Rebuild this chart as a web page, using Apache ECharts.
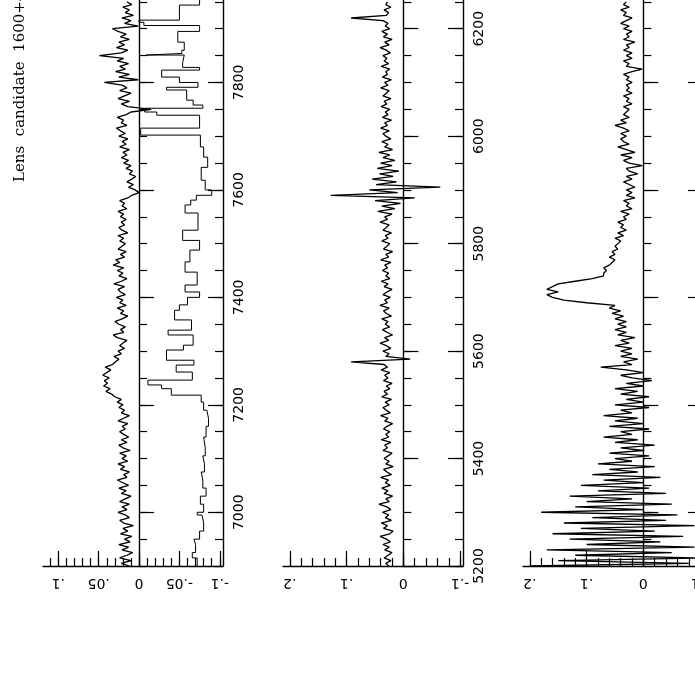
<!DOCTYPE html>
<html><head><meta charset="utf-8">
<script src="https://cdn.jsdelivr.net/npm/echarts@6/dist/echarts.min.js"></script>
<style>html,body{margin:0;padding:0;background:#fff}#c{width:695px;height:695px}</style>
</head><body><div id="c"></div>
<script>
const titleText = 'Lens  candidate  1600+434';

// ---- Panel 1 : 6900-8000 A (spectrum sampled every 5 A) ----
const p1Start = 6900, p1Step = 5;
const p1Flux = [
0.012,0.022,0.010,0.024,0.015,0.008,0.021,0.013,0.025,0.011,
0.018,0.009,0.023,0.014,0.020,0.007,0.019,0.024,0.012,0.017,
0.026,0.015,0.021,0.012,0.024,0.017,0.010,0.022,0.016,0.025,
0.013,0.020,0.027,0.015,0.019,0.012,0.023,0.018,0.026,0.014,
0.021,0.016,0.024,0.011,0.020,0.025,0.015,0.022,0.013,0.019,
0.024,0.017,0.021,0.014,0.026,0.019,0.012,0.022,0.018,0.025,
0.020,0.027,0.022,0.030,0.034,0.041,0.036,0.044,0.039,0.043,
0.037,0.045,0.040,0.035,0.042,0.033,0.029,0.025,0.031,0.022,
0.026,0.018,0.024,0.020,0.015,0.027,0.032,0.019,0.023,0.017,
0.025,0.030,0.021,0.014,0.023,0.019,0.027,0.016,0.024,0.020,
0.028,0.017,0.023,0.026,0.018,0.031,0.022,0.015,0.025,0.020,
0.027,0.019,0.032,0.024,0.029,0.018,0.023,0.016,0.026,0.021,
0.017,0.024,0.019,0.026,0.014,0.021,0.025,0.018,0.022,0.016,
0.023,0.019,0.026,0.015,0.021,0.018,0.024,0.014,0.009,0.000,
0.005,0.013,0.007,0.015,0.009,0.004,0.012,0.008,0.016,0.010,
0.019,0.013,0.022,0.015,0.020,0.012,0.024,0.016,0.021,0.014,
0.025,0.017,0.023,0.028,0.015,0.022,0.019,0.027,0.016,0.010,
-0.015,0.014,0.022,0.012,0.026,0.018,0.010,0.024,0.015,0.021,
0.043,0.001,0.025,0.012,0.029,0.017,0.024,0.013,0.027,0.019,
0.049,0.022,0.014,0.028,0.018,0.025,0.012,0.023,0.016,0.026,
0.033,0.001,0.018,0.010,0.021,0.007,0.017,0.012,0.020,0.009,
0.015];
// binned comparison curve (bin start wavelength, value)
const p1BinWl = [6900,6915,6925,6940,6950,6965,6980,6995,7000,7015,7030,7045,7060,7075,7090,7105,7120,7140,7160,7175,7190,7205,7218,7230,7237,7246,7261,7274,7283,7302,7311,7330,7339,7358,7376,7386,7400,7410,7423,7447,7466,7488,7506,7525,7557,7572,7581,7590,7600,7618,7642,7661,7680,7702,7715,7739,7745,7752,7758,7767,7786,7791,7800,7810,7823,7828,7837,7851,7854,7860,7875,7895,7906,7912,7916,7944];
const p1BinVal = [-0.072,-0.066,-0.070,-0.068,-0.075,-0.080,-0.078,-0.072,-0.080,-0.076,-0.083,-0.079,-0.077,-0.081,-0.079,-0.082,-0.080,-0.083,-0.086,-0.084,-0.080,-0.077,-0.040,-0.028,-0.011,-0.066,-0.046,-0.068,-0.034,-0.055,-0.067,-0.036,-0.065,-0.044,-0.050,-0.060,-0.075,-0.057,-0.072,-0.057,-0.063,-0.075,-0.054,-0.073,-0.057,-0.064,-0.071,-0.090,-0.082,-0.077,-0.085,-0.080,-0.076,-0.002,-0.075,-0.022,-0.007,-0.079,-0.067,-0.059,-0.034,-0.073,-0.050,-0.028,-0.075,-0.054,-0.056,-0.009,-0.053,-0.056,-0.048,-0.075,-0.006,0.000,-0.050,-0.075];
const p1BinEnd = 7960;

// ---- Panel 2 : 5200-6300 A ----
const p2Start = 5200, p2Step = 5;
const p2Flux = [
0.026,0.031,0.022,0.034,0.027,0.020,0.033,0.025,0.036,0.023,
0.030,0.041,0.024,0.018,0.035,0.028,0.039,0.021,0.032,0.026,
0.037,0.022,0.029,0.043,0.025,0.031,0.019,0.034,0.027,0.038,
0.023,0.032,0.026,0.040,0.021,0.029,0.035,0.018,0.031,0.025,
0.034,0.027,0.020,0.036,0.028,0.033,0.022,0.039,0.026,0.031,
0.024,0.035,0.029,0.019,0.033,0.027,0.040,0.023,0.030,0.036,
0.025,0.032,0.021,0.038,0.028,0.034,0.024,0.030,0.020,0.035,
0.027,0.033,0.024,0.039,0.028,0.034,0.092,-0.012,0.031,0.025,
0.036,0.022,0.030,0.041,0.026,0.033,0.019,0.029,0.037,0.024,
0.032,0.027,0.038,0.021,0.030,0.035,0.025,0.041,0.028,0.033,
0.023,0.036,0.029,0.020,0.034,0.027,0.039,0.024,0.031,0.026,
0.037,0.028,0.033,0.022,0.040,0.026,0.031,0.019,0.035,0.029,
0.024,0.038,0.027,0.032,0.021,0.036,0.030,0.025,0.041,0.028,
0.033,0.020,0.045,0.015,0.038,0.005,0.050,-0.020,0.128,0.010,
0.060,-0.065,0.048,0.012,0.055,0.018,0.042,0.008,0.046,0.020,
0.040,0.015,0.036,0.024,0.043,0.019,0.033,0.027,0.038,0.022,
0.031,0.036,0.025,0.040,0.028,0.033,0.021,0.037,0.027,0.032,
0.024,0.039,0.029,0.034,0.022,0.036,0.030,0.025,0.040,0.027,
0.033,0.021,0.037,0.028,0.031,0.024,0.039,0.026,0.034,0.029,
0.036,0.023,0.030,0.041,0.025,0.033,0.020,0.035,0.028,0.038,
0.024,0.032,0.027,0.036,0.092,0.030,0.026,0.034,0.022,0.031,
0.028];

// ---- Panel 3 : 3900-5000 A ----
const p3Start = 3900, p3Step = 5;
const p3Flux = [
0.20,-0.08,0.15,-0.10,0.12,-0.05,0.17,-0.09,0.10,-0.03,
0.13,-0.07,0.16,-0.02,0.11,-0.09,0.14,-0.04,0.09,-0.06,
0.18,0.00,0.12,-0.05,0.10,0.02,0.13,-0.04,0.08,-0.01,
0.11,0.00,0.07,-0.03,0.09,0.01,0.06,-0.02,0.08,0.02,
0.05,-0.01,0.06,0.00,0.04,-0.02,0.05,0.01,0.07,0.02,
0.04,-0.01,0.06,0.00,0.05,0.01,0.07,0.02,0.04,-0.01,
0.05,0.00,0.03,-0.01,0.04,0.01,0.05,0.00,0.03,-0.015,
0.02,0.04,0.00,0.03,0.075,0.02,0.035,0.01,0.04,0.02,
0.04,0.02,0.05,0.025,0.04,0.015,0.045,0.03,0.05,0.03,
0.045,0.03,0.05,0.035,0.055,0.04,0.06,0.05,
0.10,0.14,0.16,0.17,0.15,0.17,0.16,0.15,0.12,0.09,0.07,0.07,0.065,0.07,
0.06,0.055,0.05,0.06,0.05,0.055,0.045,0.05,
0.045,0.04,0.05,0.035,0.045,0.03,0.04,0.035,0.045,0.03,
0.035,0.025,0.04,0.02,0.03,0.025,0.035,0.015,0.03,0.02,
0.03,0.015,0.025,0.035,0.02,0.03,0.01,0.025,0.03,0.002,
0.025,0.035,0.02,0.04,0.015,0.03,0.045,0.025,0.035,0.04,
0.03,0.04,0.025,0.035,0.05,0.03,0.04,0.025,0.035,0.03,
0.025,0.035,0.02,0.03,0.025,0.035,0.02,0.03,0.025,0.03,
0.02,0.03,0.025,0.035,0.02,0.002,0.03,0.025,0.035,0.02,
0.03,0.02,0.035,0.025,0.03,0.015,0.035,0.025,0.03,0.02,
0.035,0.025,0.04,0.03,0.02,0.035,0.03,0.04,0.025,0.035,
0.03];

// ---- Axis ticks / labels ----
const p1Major = [-0.1,-0.05,0,0.05,0.1];
const p1Minor = [-0.1,-0.09,-0.08,-0.07,-0.06,-0.05,-0.04,-0.03,-0.02,-0.01,0,0.01,0.02,0.03,0.04,0.05,0.06,0.07,0.08,0.09,0.1,0.11];
const p23Major = [-0.1,0,0.1,0.2];
const p23Minor = [-0.1,-0.08,-0.06,-0.04,-0.02,0,0.02,0.04,0.06,0.08,0.1,0.12,0.14,0.16,0.18,0.2];

const panels = [
  {left:43,  fmin:-0.104, fmax:0.119, wmin:6900, major:p1Major, minor:p1Minor},
  {left:283, fmin:-0.105, fmax:0.212, wmin:5200, major:p23Major, minor:p23Minor},
  {left:523, fmin:-0.105, fmax:0.212, wmin:3900, major:p23Major, minor:p23Minor}
];
const WSPAN = 1100;

function fluxLabel(v){
  const r = Math.round(v*100)/100;
  if (r === 0) return '0';
  const s = String(Math.abs(r)).replace(/^0/, '');
  return (r < 0 ? '-' : '') + s;
}

const LINE = {show:true, lineStyle:{color:'#000', width:1.4}};
const TICK = {color:'#000', width:1.2};
const FONT = 'DejaVu Sans';
const grid = [], xAxis = [], yAxis = [], series = [];
panels.forEach((p, i) => {
  grid.push({left:p.left, top:-25, width:180, height:591, containLabel:false, outerBoundsMode:'none'});
  const wMajor = [];
  for (let w = Math.ceil(p.wmin/200)*200; w <= p.wmin+WSPAN; w += 200) wMajor.push(w);
  const xBase = {type:'value', gridIndex:i, min:p.fmin, max:p.fmax, inverse:true, position:'bottom', splitLine:{show:false}};
  xAxis.push(Object.assign({}, xBase, {
    axisLine: LINE,
    axisTick:{show:true, inside:true, length:8, customValues:p.minor, lineStyle:TICK},
    axisLabel:{show:true, customValues:p.major, rotate:180, margin:10, color:'#000', fontFamily:FONT, fontSize:14, formatter:fluxLabel}
  }));
  xAxis.push(Object.assign({}, xBase, {
    axisLine:{show:false},
    axisTick:{show:true, inside:true, length:15, customValues:p.major, lineStyle:TICK},
    axisLabel:{show:false}
  }));
  const yBase = {type:'value', gridIndex:i, min:p.wmin, max:p.wmin+WSPAN, splitLine:{show:false}};
  ['left','right'].forEach(pos => {
    yAxis.push(Object.assign({}, yBase, {
      position:pos, interval:50, axisLine: LINE,
      axisTick:{show:true, inside:true, length:8, lineStyle:TICK},
      axisLabel: pos === 'right'
        ? {show:true, customValues:wMajor, rotate:90, margin:9, color:'#000', fontFamily:FONT, fontSize:14, formatter:v => String(v)}
        : {show:false}
    }));
    yAxis.push(Object.assign({}, yBase, {
      position:pos, axisLine:{show:false},
      axisTick:{show:true, inside:true, length:15, customValues:wMajor, lineStyle:TICK},
      axisLabel:{show:false}
    }));
  });
});

function specSeries(xi, yi, start, step, fl){
  return {type:'line', xAxisIndex:xi, yAxisIndex:yi, symbol:'none', animation:false,
    lineStyle:{color:'#000', width:1.3}, data: fl.map((f, k) => [f, start + k*step])};
}
series.push(specSeries(0, 0, p1Start, p1Step, p1Flux));
const stepPts = [];
p1BinWl.forEach((w, k) => {
  const wEnd = k + 1 < p1BinWl.length ? p1BinWl[k+1] : p1BinEnd;
  stepPts.push([p1BinVal[k], w]);
  stepPts.push([p1BinVal[k], wEnd]);
});
series.push({type:'line', xAxisIndex:0, yAxisIndex:0, symbol:'none', animation:false,
  lineStyle:{color:'#000', width:1}, data: stepPts});
series.push(specSeries(2, 4, p2Start, p2Step, p2Flux));
series.push(specSeries(4, 8, p3Start, p3Step, p3Flux));

const chart = echarts.init(document.getElementById('c'), null, {renderer:'canvas'});
chart.setOption({
  animation:false,
  backgroundColor:'#fff',
  grid, xAxis, yAxis, series,
  graphic:[{type:'text', x:20, y:182, rotation:Math.PI/2,
    style:{text:titleText, font:'15px "DejaVu Serif"', fill:'#000', textAlign:'left', textVerticalAlign:'middle'}}]
});
</script></body></html>
